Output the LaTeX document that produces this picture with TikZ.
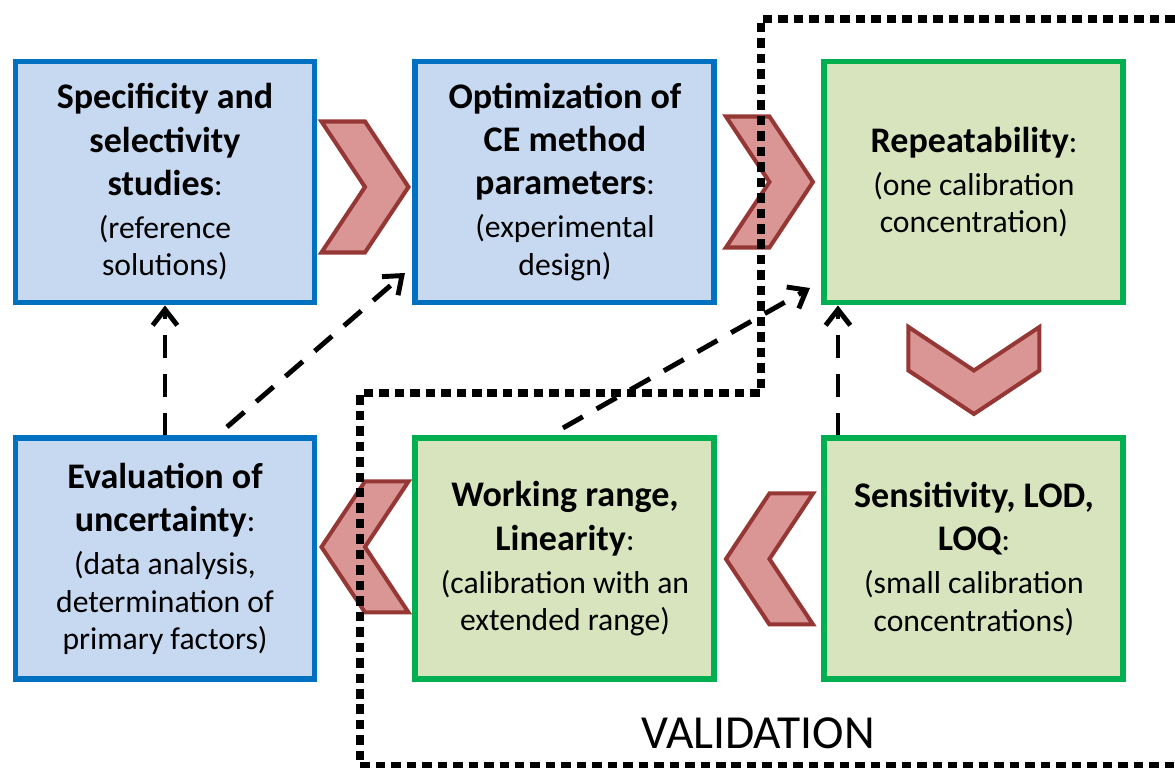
\documentclass[tikz,border=0pt]{standalone}
\usepackage{fontspec}
\setmainfont{Carlito}
\usetikzlibrary{arrows.meta,positioning,calc}

\definecolor{boxblue}{RGB}{0,112,192}
\definecolor{fillblue}{RGB}{198,217,241}
\definecolor{boxgreen}{RGB}{0,176,80}
\definecolor{fillgreen}{RGB}{215,228,189}
\definecolor{chevedge}{RGB}{149,55,53}
\definecolor{chevfill}{RGB}{217,150,148}

% heading line of a stage box
\newcommand{\hd}[1]{{\fontsize{20.5}{21.5}\selectfont\bfseries #1}}

\tikzset{
  stage/.style={draw, line width=3.4pt, minimum width=5.98cm, minimum height=4.82cm,
    align=center, inner sep=2pt, font=\fontsize{18}{21.5}\selectfont},
  pstage/.style={stage, draw=boxblue, fill=fillblue},
  vstage/.style={stage, draw=boxgreen, fill=fillgreen},
  chev/.style={draw=chevedge, fill=chevfill, line width=2.3pt, line join=miter},
  dasharrow/.style={->, line width=2.8pt, dash pattern=on 13pt off 9pt},
  dotframe/.style={line width=4.8pt, dash pattern=on 5.4pt off 3.4pt},
  chevron/.pic={\draw[chev] (-0.87,1.31) -- (0,1.31) -- (0.87,0) -- (0,-1.31)
    -- (-0.87,-1.31) -- (0,0) -- cycle;}
}

\begin{document}
\begin{tikzpicture}[>={Straight Barb[length=9pt,width=14pt]}]
  \clip (0,0) rectangle (23.5,15.36);

  % preparation and validation stages
  \node (spec)   [pstage] at (3.3,11.72)        {\hd{Specificity and}\\[3pt]\hd{selectivity}\\[3pt]\hd{studies}:\\[3pt](reference\\solutions)};
  \node (optim)  [pstage, right=1.9cm of spec]  {\hd{Optimization of}\\[3pt]\hd{CE method}\\[3pt]\hd{parameters}:\\[3pt](experimental\\design)};
  \node (repeat) [vstage, right=2.08cm of optim] {\hd{Repeatability}:\\[3pt](one calibration\\concentration)};
  \node (sens)   [vstage, below=2.6cm of repeat] {\hd{Sensitivity, LOD,}\\[3pt]\hd{LOQ}:\\[3pt](small calibration\\concentrations)};
  \node (work)   [vstage, left=2.08cm of sens]   {\hd{Working range,}\\[3pt]\hd{Linearity}:\\[3pt](calibration with an\\extended range)};
  \node (evalu)  [pstage, left=1.9cm of work]    {\hd{Evaluation of}\\[3pt]\hd{uncertainty}:\\[3pt](data analysis,\\determination of\\primary factors)};

  % chevrons
  \pic[yshift=-0.1cm] at ($(spec.east)!.5!(optim.west)$)   {chevron};
  \pic at ($(optim.east)!.5!(repeat.west)$)                {chevron};
  \pic[rotate=-90] at ($(repeat.south)!.5!(sens.north)$)   {chevron};
  \pic[rotate=180] at ($(sens.west)!.5!(work.east)$)       {chevron};
  \pic[rotate=180, yshift=-0.24cm] at ($(work.west)!.5!(evalu.east)$) {chevron};

  % feedback
  \draw[dasharrow] (evalu.north) -- (spec.south);
  \draw[dasharrow] ([xshift=1.24cm,yshift=0.17cm]evalu.north) -- ([xshift=-0.15cm,yshift=0.65cm]optim.south west);
  \draw[dasharrow] ([xshift=-0.04cm,yshift=0.15cm]work.north) -- ([xshift=-0.23cm,yshift=0.35cm]repeat.south west);
  \draw[dasharrow] ([xshift=0.33cm]sens.north west) -- ([xshift=0.33cm]repeat.south west);

  % validation frame
  \draw[dotframe] (23.8,14.98) -- (15.22,14.98) -- (15.22,7.5) -- (7.2,7.5)
    -- (7.2,0.04) -- (23.8,0.04);
  \node (validation) at (15.16,0.7) {\fontsize{27}{32}\selectfont VALIDATION};
\end{tikzpicture}
\end{document}
